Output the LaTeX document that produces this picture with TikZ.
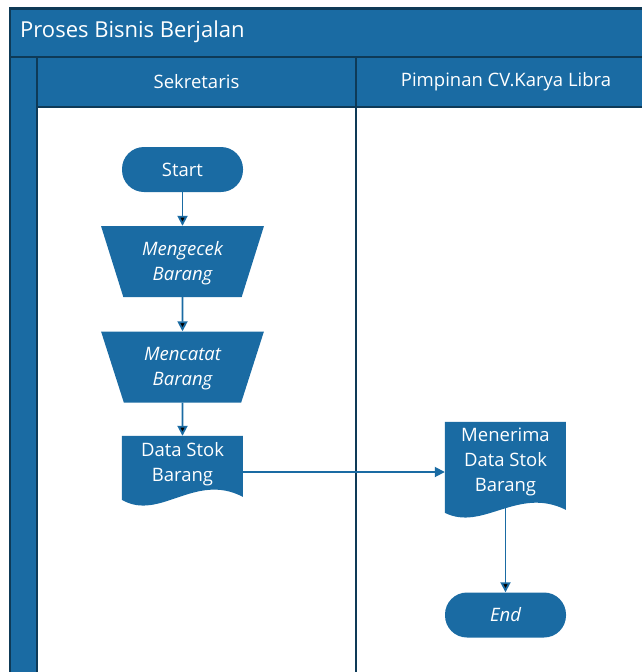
\documentclass[tikz,border=0pt]{standalone}
\usepackage{fontspec}
\setmainfont{Open Sans}
\usetikzlibrary{shapes.geometric,arrows.meta,backgrounds}
\definecolor{laneblue}{HTML}{1A6BA3}
\definecolor{lanedark}{HTML}{0E3A57}

\begin{document}
\begin{tikzpicture}[x=1pt,y=-1pt]
    \tikzset{
    pool/.style={fill=laneblue,draw=lanedark,line width=2.5pt},
    lane/.style={draw=lanedark,line width=2.5pt},
    head text/.style={text=white,inner sep=0,font=\fontsize{18.5}{25}\selectfont},
    terminal/.style={rectangle,rounded corners=22pt,fill=laneblue,minimum width=121pt,minimum height=45pt,inner sep=0,text=white,font=\fontsize{18.5}{25}\selectfont},
    manual/.style={trapezium,shape border rotate=180,trapezium stretches=true,trapezium left angle=69.2,trapezium right angle=69.2,minimum width=163pt,minimum height=71pt,inner sep=0,fill=laneblue,text=white,align=center,text depth=1pt,font=\fontsize{18.5}{25}\selectfont\itshape},
    docbox/.style={rectangle,minimum width=121pt,inner sep=0,text=white,align=center,font=\fontsize{18.5}{25}\selectfont},
    flow/.style={draw=laneblue,line width=1.8pt,-{Triangle[length=10pt,width=10pt]}}
    }
    \useasboundingbox (0,0) rectangle (642,672);
    \clip (0,0) rectangle (642,672);

    % pool and lanes
    \path[pool] (10,8.5) rectangle (680,57);
    \path[pool] (10,57) rectangle (37,700);
    \path[pool] (37,57) rectangle (356,107);
    \path[pool] (356,57) rectangle (680,107);
    \path[lane] (37,107) rectangle (356,700);
    \path[lane] (356,107) rectangle (680,700);
    \node[head text,anchor=west,font=\fontsize{22}{26}\selectfont] (title) at (20,32) {Proses Bisnis Berjalan};
    \node[head text] (sekretaris) at (196.5,82) {Sekretaris};
    \node[head text] (pimpinan) at (506,82) {Pimpinan CV.Karya Libra};

    % flow
    \node[terminal] (start) at (182.5,169.5) {Start};
    \node[manual] (cek) at (182.5,261.5) {Mengecek\\Barang};
    \node[manual] (catat) at (182.5,367) {Mencatat\\Barang};
    \node[docbox,minimum height=56pt] (stok) at (182.5,464) {Data Stok\\Barang};
    \node[docbox,minimum height=80pt] (terima) at (505.5,462) {Menerima\\Data Stok\\Barang};
    \node[terminal,font=\fontsize{18.5}{25}\selectfont\itshape] (finish) at (505.5,615) {End};
    \begin{pgfonlayer}{background}
    \fill[laneblue,shift={(stok.north west)}] (0,0) -- (121,0) -- (121,61) .. controls (73,36) and (38,86) .. (0,64) -- cycle;
    \fill[laneblue,shift={(terima.north west)}] (0,0) -- (121,0) -- (121,88) .. controls (73,64) and (38,110) .. (0,91) -- cycle;
    \end{pgfonlayer}
    \coordinate (link) at ([yshift=-8pt]stok.east);

    \path[flow]
    (start) edge (cek)
    (cek) edge (catat)
    (catat) edge (stok)
    (terima) edge (finish)
    ;
    \draw[flow] (link) -- (link -| terima.west);
\end{tikzpicture}
\end{document}
